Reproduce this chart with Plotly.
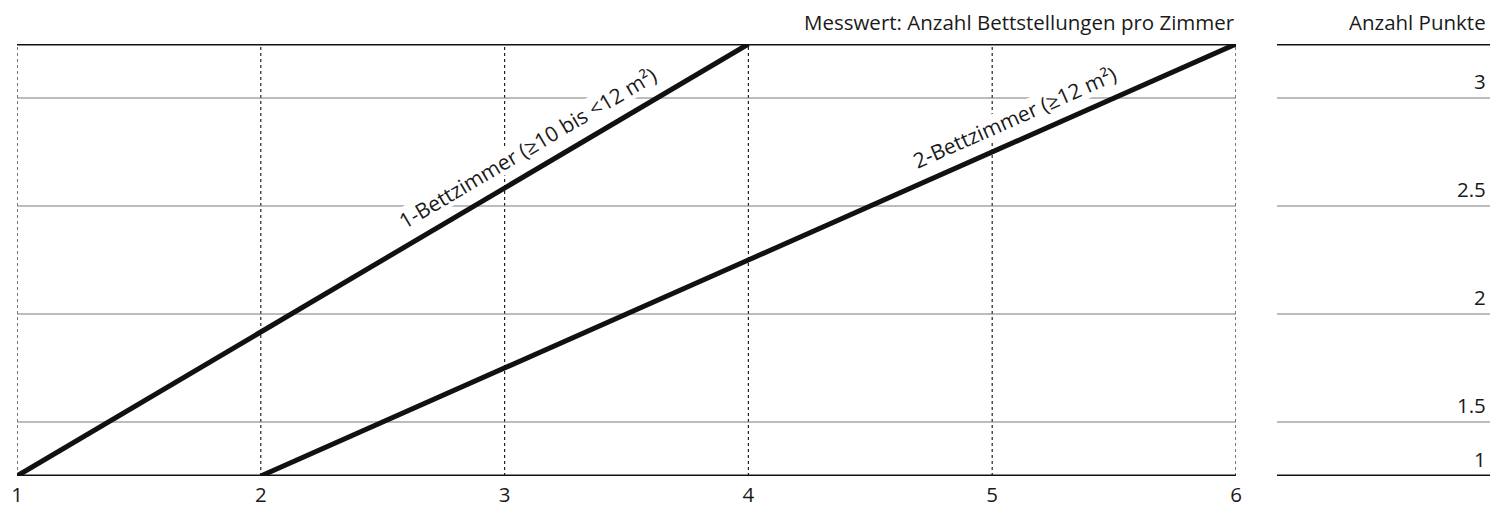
import math
import plotly.graph_objects as go

# Data
x_ticks = [1, 2, 3, 4, 5, 6]
line1_x = [1, 4]
line1_y = [1, 3]
line1_name = "1-Bettzimmer (≥10 bis <12 m²)"
line2_x = [2, 6]
line2_y = [1, 3]
line2_name = "2-Bettzimmer (≥12 m²)"
band_bounds = [1.25, 1.75, 2.25, 2.75]
point_labels = ["1", "1.5", "2", "2.5", "3"]
point_label_y = [1.0, 1.25, 1.75, 2.25, 2.75]

# page body has an 8px margin; work in window pixels and subtract it
OFF = 8
W, H = 1500 - OFF, 519 - OFF
TOP_PX, BOT_PX = 44 - OFF, 476 - OFF
M_T, M_B = TOP_PX, H - BOT_PX
X0_PX, X1_PX = 17 - OFF, 1236 - OFF
R0_PX, R1_PX = 1277 - OFF, 1490 - OFF
LAB_RIGHT = 1488 - OFF
FONT = "Open Sans"
TXT = "#1a1a1a"
XR = [1, 6]
YR = [1, 3]
SX = (X1_PX - X0_PX) / (XR[1] - XR[0])          # px per x unit
SY = (BOT_PX - TOP_PX) / (YR[1] - YR[0])         # px per y unit

fig = go.Figure()

shapes = []
# vertical dotted lines
for xv in x_ticks:
    shapes.append(dict(type="line", xref="x", yref="y", x0=xv, x1=xv, y0=YR[0], y1=YR[1],
                       line=dict(color="#222222", width=1.2, dash="dot"), layer="below"))
# horizontal band boundaries
for yv in band_bounds:
    shapes.append(dict(type="line", xref="x", yref="y", x0=XR[0], x1=XR[1], y0=yv, y1=yv,
                       line=dict(color="#7a7a7a", width=1.2), layer="below"))
    shapes.append(dict(type="line", xref="paper", yref="y", x0=R0_PX / W, x1=R1_PX / W,
                       y0=yv, y1=yv, line=dict(color="#7a7a7a", width=1.2)))


def label_geom(xs, ys, cx, cy, length_px, height_px):
    """White knockout rectangle around a label, aligned with its line."""
    ang = math.atan2((ys[1] - ys[0]) * SY, (xs[1] - xs[0]) * SX)
    ux, uy = math.cos(ang), math.sin(ang)
    nx, ny = -uy, ux
    hl, hh = length_px / 2, height_px / 2
    pts = []
    for a, b in [(-hl, -hh), (hl, -hh), (hl, hh), (-hl, hh)]:
        px = a * ux + b * nx
        py = a * uy + b * ny
        pts.append((cx + px / SX, cy + py / SY))
    path = "M " + " L ".join(f"{p[0]:.4f},{p[1]:.4f}" for p in pts) + " Z"
    return path, -math.degrees(ang)


labels = [
    (line1_x, line1_y, line1_name, 3.092, 2.520, 306, 25),
    (line2_x, line2_y, line2_name, 5.094, 2.660, 234, 25),
]
annotations = []
for xs, ys, nm, cx, cy, L, h in labels:
    path, angle = label_geom(xs, ys, cx, cy, L, h)
    shapes.append(dict(type="path", xref="x", yref="y", path=path,
                       fillcolor="white", line=dict(width=0), layer="below"))
    annotations.append(dict(text=nm, xref="x", yref="y", x=cx, y=cy, textangle=angle,
                            showarrow=False, font=dict(family=FONT, size=21, color=TXT)))

for xs, ys, nm in [(line1_x, line1_y, line1_name), (line2_x, line2_y, line2_name)]:
    fig.add_trace(go.Scatter(x=xs, y=ys, mode="lines", name=nm,
                             line=dict(color="#111111", width=5), showlegend=False,
                             hoverinfo="skip"))

for yv in YR:
    shapes.append(dict(type="line", xref="x", yref="y", x0=XR[0], x1=XR[1], y0=yv, y1=yv,
                       line=dict(color="#111111", width=3)))
    shapes.append(dict(type="line", xref="paper", yref="y", x0=R0_PX / W, x1=R1_PX / W,
                       y0=yv, y1=yv, line=dict(color="#111111", width=3)))

title_y = (BOT_PX - (22 - OFF)) / (BOT_PX - TOP_PX)
annotations.append(dict(text="Messwert: Anzahl Bettstellungen pro Zimmer", xref="paper", yref="paper",
                        x=(X1_PX + 1) / W, y=title_y, xanchor="right", yanchor="middle",
                        showarrow=False, font=dict(family=FONT, size=20.5, color=TXT)))
annotations.append(dict(text="Anzahl Punkte", xref="paper", yref="paper",
                        x=LAB_RIGHT / W, y=title_y, xanchor="right", yanchor="middle",
                        showarrow=False, font=dict(family=FONT, size=20.5, color=TXT)))
for lab, yv in zip(point_labels, point_label_y):
    annotations.append(dict(text=lab, xref="paper", yref="y", x=LAB_RIGHT / W, y=yv,
                            xanchor="right", yanchor="bottom", yshift=1,
                            showarrow=False, font=dict(family=FONT, size=20.5, color=TXT)))

fig.update_layout(
    width=W, height=H,
    margin=dict(l=0, r=0, t=M_T, b=M_B, pad=0, autoexpand=False),
    paper_bgcolor="white", plot_bgcolor="white",
    shapes=shapes, annotations=annotations,
    xaxis=dict(domain=[X0_PX / W, X1_PX / W], range=XR, tickvals=x_ticks,
               ticktext=[str(v) for v in x_ticks], showgrid=False, zeroline=False,
               showline=False, ticks="", automargin=False, ticklabelstandoff=4,
               tickfont=dict(family=FONT, size=20.5, color=TXT)),
    yaxis=dict(domain=[0, 1], range=YR, showgrid=False, zeroline=False, automargin=False,
               showline=False, showticklabels=False, ticks=""),
    font=dict(family=FONT),
)

fig.write_html("out.html")
